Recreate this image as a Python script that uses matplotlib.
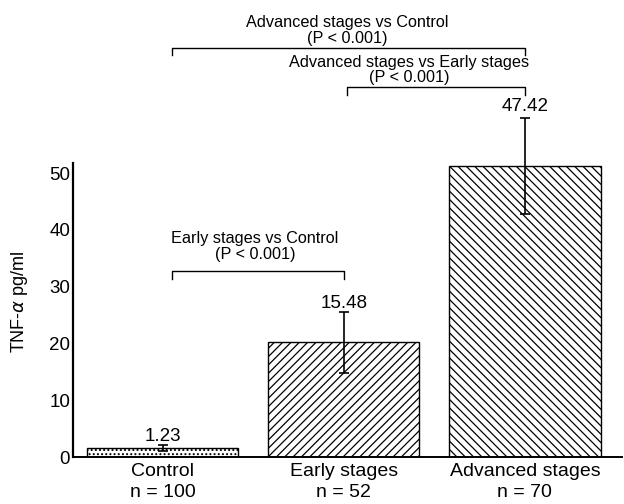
import matplotlib
matplotlib.use("Agg")
import matplotlib.pyplot as plt

plt.rcParams['font.family'] = ['Liberation Sans', 'DejaVu Sans']
plt.rcParams['hatch.linewidth'] = 0.9

categories = ["Control\nn = 100", "Early stages\nn = 52", "Advanced stages\nn = 70"]
bar_values = [1.6, 20.2, 51.2]
err_values = [0.6, 5.4, 8.5]
value_labels = ["1.23", "15.48", "47.42"]
hatches = ["....", "////", "\\\\\\\\"]

# comparisons: (left index, right index, line height, text, p text)
comparisons = [
    (0, 2, 72.0, "Advanced stages vs Control", "(P < 0.001)"),
    (1, 2, 65.1, "Advanced stages vs Early stages", "(P < 0.001)"),
    (0, 1, 32.7, "Early stages vs Control", "(P < 0.001)"),
]

fig = plt.figure(figsize=(6.24, 5.04), dpi=100)
ax = fig.add_axes([73/624, 1-457/504, (622-73)/624, 457/504])

x = list(range(len(categories)))
ax.bar(x, bar_values, width=0.835, color='white', edgecolor='black',
       linewidth=1.0, hatch=hatches, zorder=2)
ax.errorbar(x, bar_values, yerr=err_values, fmt='none', ecolor='black',
            elinewidth=1.2, capsize=3.6, capthick=1.2, zorder=3)

label_y = [3.55, 26.95, 61.65]
for xi, lab, ly in zip(x, value_labels, label_y):
    ax.text(xi, ly, lab, ha='center', va='center', fontsize=13.5)

tick = 1.3
text_x = [1.02, 1.36, 0.51]
# baselines of the two text lines (upper, lower) for each comparison
text_base = [(75.7, 72.9), (68.7, 66.0), (37.7, 34.9)]
for (i, j, h, t1, t2), tx, (b1, b2) in zip(comparisons, text_x, text_base):
    xl = i + (0.05 if i == 0 else 0.02)
    xr = j
    ax.plot([xl, xl, xr, xr], [h - tick, h, h, h - tick], color='black',
            linewidth=1.0, clip_on=False)
    ax.text(tx, b2, t2, ha='center', va='baseline', fontsize=11.7)
    ax.text(tx, b1, t1, ha='center', va='baseline', fontsize=11.7)

ax.set_xlim(-0.494, 2.536)
ax.set_ylim(0, 457/5.68)
ax.set_xticks(x)
ax.set_xticklabels(categories, fontsize=14, linespacing=1.35)
ax.set_yticks([0, 10, 20, 30, 40, 50])
ax.set_yticklabels(["0", "10", "20", "30", "40", "50"], fontsize=13.5)
ax.tick_params(axis='x', length=0, pad=4)
ax.tick_params(axis='y', length=0, pad=2)
ax.set_ylabel(r"TNF-$\alpha$ pg/ml", fontsize=13)
ax.yaxis.set_label_coords(-0.078, 0.34)

for s in ['top', 'right']:
    ax.spines[s].set_visible(False)
ax.spines['left'].set_bounds(0, 51.8)
ax.spines['left'].set_linewidth(1.6)
ax.spines['bottom'].set_linewidth(1.4)

fig.savefig("out.png", dpi=100)
